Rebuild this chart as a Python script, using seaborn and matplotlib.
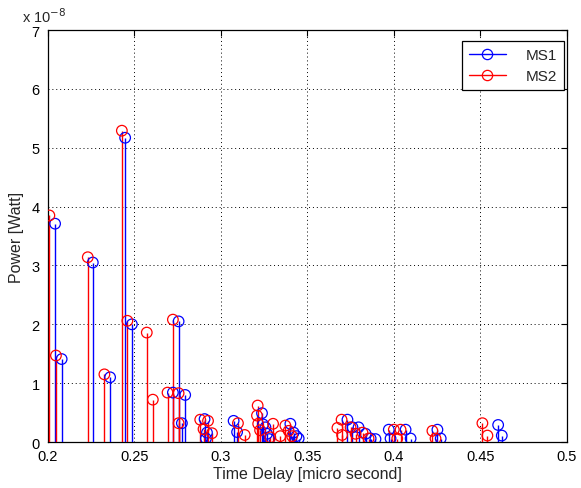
import numpy as np
import matplotlib
matplotlib.use("Agg")
import matplotlib.pyplot as plt
from matplotlib.lines import Line2D
from matplotlib.legend_handler import HandlerLine2D
from matplotlib.ticker import FuncFormatter, MultipleLocator
import seaborn as sns

# Power delay profile: path delays (micro second) and received power (x 1e-8 W)
ms1_delay = [0.2041, 0.2079, 0.2259, 0.2359, 0.2446, 0.2485, 0.2722, 0.2755,
             0.2774, 0.2793, 0.2905, 0.2919, 0.2913, 0.3073, 0.3093, 0.3237,
             0.3243, 0.3257, 0.3266, 0.3279, 0.3401, 0.3420, 0.3436, 0.3449,
             0.3731, 0.3760, 0.3795, 0.3836, 0.3865, 0.3893, 0.3970, 0.3980,
             0.4067, 0.4096, 0.4251, 0.4270, 0.4602, 0.4623]
ms1_power = [3.71, 1.41, 3.05, 1.10, 5.17, 2.00, 0.84, 2.05,
             0.32, 0.80, 0.39, 0.16, 0.06, 0.36, 0.17, 0.49,
             0.30, 0.25, 0.14, 0.05, 0.31, 0.16, 0.10, 0.06,
             0.38, 0.25, 0.25, 0.14, 0.06, 0.05, 0.21, 0.06,
             0.21, 0.06, 0.21, 0.06, 0.29, 0.11]

ms2_delay = [0.2008, 0.2046, 0.2230, 0.2326, 0.2427, 0.2459, 0.2571, 0.2606,
             0.2691, 0.2722, 0.2755, 0.2755, 0.2880, 0.2899, 0.2925, 0.2948,
             0.3098, 0.3137, 0.3212, 0.3208, 0.3215, 0.3226, 0.3285, 0.3301,
             0.3343, 0.3372, 0.3391, 0.3411, 0.3673, 0.3697, 0.3700, 0.3749,
             0.3778, 0.3818, 0.3853, 0.3999, 0.4019, 0.4038, 0.4222, 0.4240,
             0.4511, 0.4540]
ms2_power = [3.85, 1.47, 3.14, 1.15, 5.29, 2.06, 1.86, 0.72,
             0.84, 2.08, 0.83, 0.32, 0.38, 0.22, 0.36, 0.15,
             0.32, 0.12, 0.62, 0.45, 0.31, 0.20, 0.08, 0.31,
             0.10, 0.28, 0.19, 0.10, 0.24, 0.38, 0.12, 0.25,
             0.14, 0.16, 0.06, 0.21, 0.06, 0.21, 0.19, 0.06,
             0.32, 0.11]

series_names = ["MS1", "MS2"]
series_colors = ["#0000ff", "#ff0000"]
scale = 1e-8

sns.set_style("white")
plt.rcParams["font.family"] = ["Liberation Sans", "DejaVu Sans"]

fig = plt.figure(figsize=(5.81, 4.89), dpi=100)
ax = fig.add_axes([0.0826, 0.094, 0.8933, 0.8425])

for delay, power, color in [(ms1_delay, ms1_power, series_colors[0]),
                            (ms2_delay, ms2_power, series_colors[1])]:
    p = np.asarray(power) * scale
    ax.vlines(delay, 0, p, colors=color, linewidth=1.0, zorder=3)
    sns.scatterplot(x=delay, y=p, ax=ax, marker="o", s=58, color=color,
                    facecolor="none", edgecolor=color, linewidth=0.9,
                    zorder=4, legend=False)

ax.set_xlim(0.2, 0.5)
ax.set_ylim(0, 7 * scale)
ax.xaxis.set_major_locator(MultipleLocator(0.05))
ax.yaxis.set_major_locator(MultipleLocator(scale))
ax.xaxis.set_major_formatter(FuncFormatter(lambda v, _: f"{v:g}"))
ax.yaxis.set_major_formatter(FuncFormatter(lambda v, _: f"{round(v / scale):d}"))

ax.grid(True, color="black", linestyle=(0, (1, 3)), linewidth=0.7)
ax.set_axisbelow(True)
ax.tick_params(direction="in", length=4, width=0.8, top=True, right=True,
               labelsize=10.5, colors="black")
ax.tick_params(axis="x", pad=5)
ax.tick_params(axis="y", pad=6)
for s in ax.spines.values():
    s.set_color("black")
    s.set_linewidth(0.9)
    s.set_visible(True)

ax.set_xlabel("Time Delay [micro second]", fontsize=11.5, labelpad=2)
ax.set_ylabel("Power [Watt]", fontsize=11.5, labelpad=5)
ax.text(-0.05, 1.012, r"x 10$^{-8}$", transform=ax.transAxes,
        ha="left", va="bottom", fontsize=10.5)


class EndMarkerHandler(HandlerLine2D):
    def get_xdata(self, legend, xdescent, ydescent, width, height, fontsize):
        xdata = np.array([-xdescent, -xdescent + width])
        return xdata, np.array([-xdescent + width])


handles = [Line2D([0], [0], color=c, linewidth=1.0, marker="o",
                  markerfacecolor="none", markeredgecolor=c,
                  markersize=7.4, markeredgewidth=0.9)
           for c in series_colors]
leg = ax.legend(handles, series_names, loc="upper right",
                bbox_to_anchor=(0.994, 0.973), borderaxespad=0,
                fontsize=11, fancybox=False,
                framealpha=1, edgecolor="black", handlelength=2.4,
                handletextpad=1.3, borderpad=0.45, labelspacing=0.45,
                handler_map={Line2D: EndMarkerHandler()})
leg.get_frame().set_linewidth(0.9)

fig.savefig("out.png", dpi=100, facecolor="white")
